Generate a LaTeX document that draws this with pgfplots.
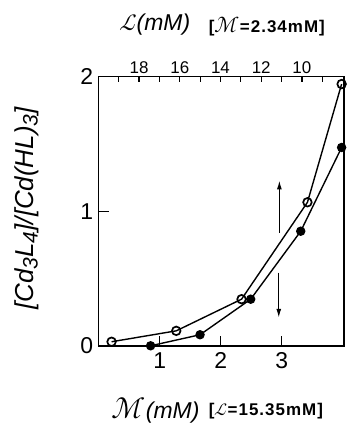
\documentclass[border=0pt]{standalone}
\usepackage{fontspec}
\setmainfont{Liberation Sans}
\newfontfamily\scr{Latin Modern Math}
\newfontfamily\brk[LetterSpace=6]{Liberation Sans}
\usepackage{pgfplots}
\pgfplotsset{compat=1.18}
\usetikzlibrary{arrows.meta}
\newcommand\sub[1]{\raisebox{-0.3ex}{\fontsize{21}{21}\selectfont #1}}
\newcommand\M{{\scr\scalebox{1.3}{ℳ}}}

\begin{document}
\begin{tikzpicture}
\path (0,0) rectangle (348pt,427pt);
\begin{axis}[
  at={(99pt,80pt)}, anchor=south west,
  scale only axis, width=246pt, height=270pt,
  xmin=0, xmax=4.02, ymin=0, ymax=2,
  clip=false,
  xtick={1,2,3}, ytick={0,1,2},
  xtick pos=bottom, ytick pos=left,
  tick align=inside,
  major tick length=10pt,
  axis line style={line width=1.4pt},
  tick style={line width=1.2pt, black},
  /pgf/number format/assume math mode=true,
  ticklabel style={font=\fontsize{23}{23}\selectfont},
  xticklabel style={yshift=-3pt},
  yticklabel style={xshift=-2pt},
]
\addplot[black, line width=1.4pt, mark=o, mark size=4.3pt,
  mark options={line width=1.7pt, fill=white}] coordinates {
  (0.21,0.032) (1.27,0.113) (2.34,0.348) (3.42,1.068) (3.98,1.946)};
\addplot[black, line width=1.4pt, mark=*, mark size=4pt] coordinates {
  (0.85,0.002) (1.66,0.084) (2.49,0.348) (3.31,0.853) (3.98,1.475)};
\draw[line width=1.3pt, -{Latex[length=9pt,width=5pt]}] (axis cs:2.96,0.84) -- (axis cs:2.96,1.23);
\draw[line width=1.3pt, -{Latex[length=9pt,width=5pt]}] (axis cs:2.95,0.546) -- (axis cs:2.95,0.21);
\end{axis}
\begin{axis}[
  at={(99pt,80pt)}, anchor=south west,
  scale only axis, width=246pt, height=270pt,
  xmin=7.93, xmax=19.98, x dir=reverse, ymin=0, ymax=2,
  axis x line*=top, axis y line=none,
  xtick={10,12,14,16,18}, minor xtick={9,11,13,15,17,19},
  tick align=inside,
  major tick length=5pt, minor tick length=5pt,
  axis line style={line width=1.4pt},
  tick style={line width=1.2pt, black},
  /pgf/number format/assume math mode=true,
  ticklabel style={font=\fontsize{17}{17}\selectfont},
]
\end{axis}
\node at (27pt,218pt) [rotate=90, font=\fontsize{26}{26}\selectfont\itshape]
  {[Cd\sub{3}L\sub{4}]/[Cd(HL)\sub{3}]};
\node at (155pt,402pt) [font=\fontsize{23}{23}\selectfont\itshape] {{\scr ℒ}(mM)};
\node[anchor=west] at (206pt,400pt) [font=\fontsize{17}{17}\selectfont\bfseries\brk] {[\M=2.34mM]};
\node at (156pt,15pt) [font=\fontsize{23}{23}\selectfont\itshape] {\M(mM)};
\node[anchor=west] at (206pt,15pt) [font=\fontsize{17}{17}\selectfont\bfseries\brk] {[{\scr ℒ}=15.35mM]};
\end{tikzpicture}
\end{document}
